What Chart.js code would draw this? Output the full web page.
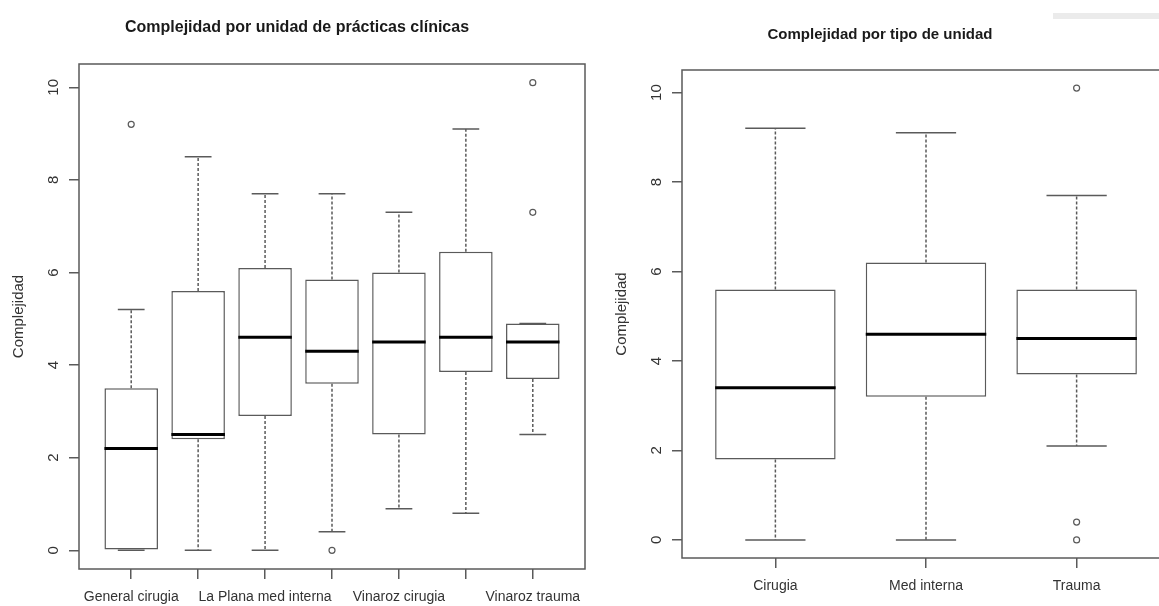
<!DOCTYPE html>
<html>
<head>
<meta charset="utf-8">
<script src="https://cdn.jsdelivr.net/npm/chart.js@4.4.1/dist/chart.umd.min.js"></script>
<style>
  html, body { margin: 0; padding: 0; background: #fff; overflow: hidden; width: 1159px; height: 606px; }
  .caja { position: absolute; top: 0; height: 606px; width: 600px; }
  #caja1 { left: 0; }
  #caja2 { left: 600px; }
  .titulo { position: absolute; font-family: "Liberation Sans", Arial, sans-serif; font-weight: bold; color: #1a1a1a; white-space: nowrap; transform: translate(-50%, -50%); }
  #marca { position: absolute; left: 1053px; top: 13px; width: 106px; height: 6px; background: #ebebeb; }
</style>
</head>
<body>
<div class="caja" id="caja1"><canvas id="grafUnidad"></canvas></div>
<div class="caja" id="caja2"><canvas id="grafTipo"></canvas></div>
<div class="titulo" style="left:297px;top:27px;font-size:16px">Complejidad por unidad de prácticas clínicas</div>
<div class="titulo" style="left:880px;top:33px;font-size:15px">Complejidad por tipo de unidad</div>
<div id="marca"></div>
<script>
// Unidades de prácticas (solo se ven las etiquetas impares, como en R)
const unidades = ['General cirugia', 'La Plana cirugia', 'La Plana med interna', 'La Plana trauma', 'Vinaroz cirugia', 'Vinaroz med interna', 'Vinaroz trauma'];
const unidadMin = [0, 0, 0, 0.4, 0.9, 0.8, 2.5];
const unidadQ1 = [0, 2.4, 2.9, 3.6, 2.5, 3.85, 3.7];
const unidadMed = [2.2, 2.5, 4.6, 4.3, 4.5, 4.6, 4.5];
const unidadQ3 = [3.5, 5.6, 6.1, 5.85, 6.0, 6.45, 4.9];
const unidadMax = [5.2, 8.5, 7.7, 7.7, 7.3, 9.1, 4.9];
const unidadAtip = [[9.2], [], [], [0], [], [], [10.1, 7.3]];

// Tipos de unidad
const tipos = ['Cirugia', 'Med interna', 'Trauma'];
const tipoMin = [0, 0, 2.1];
const tipoQ1 = [1.8, 3.2, 3.7];
const tipoMed = [3.4, 4.6, 4.5];
const tipoQ3 = [5.6, 6.2, 5.6];
const tipoMax = [9.2, 9.1, 7.7];
const tipoAtip = [[], [], [10.1, 0.4, 0]];

const yTicks = [0, 2, 4, 6, 8, 10];
const yMin = -0.404, yMax = 10.504;

const fuente = '"Liberation Sans", Arial, sans-serif';
const gris = '#5a5a5a';

// Marco, etiquetas verticales del eje y y titulo del eje, al estilo R
const estiloR = {
	id: 'estiloR',
	afterDraw(chart, args, opts) {
		const ctx = chart.ctx;
		const a = chart.chartArea;
		const y = chart.scales.y;
		ctx.save();
		ctx.strokeStyle = gris;
		ctx.lineWidth = 1.5;
		ctx.strokeRect(a.left, a.top, a.right - a.left, a.bottom - a.top);
		ctx.fillStyle = '#333';
		ctx.font = '15px ' + fuente;
		ctx.textAlign = 'center';
		ctx.textBaseline = 'middle';
		y.ticks.forEach(t => {
			ctx.save();
			ctx.translate(a.left - 25.5, y.getPixelForValue(t.value));
			ctx.rotate(-Math.PI / 2);
			ctx.fillText(String(t.value), 0, 0);
			ctx.restore();
		});
		ctx.translate(a.left - 60, (a.top + a.bottom) / 2);
		ctx.rotate(-Math.PI / 2);
		ctx.fillText(opts.titulo, 0, 0);
		ctx.restore();
	}
};

function boxplot(id, cats, lo, q1, med, q3, hi, atip, cfg) {
	const xs = cats.map((c, i) => i + 1);
	const bigotes = [], topes = [], medianas = [], puntos = [];
	xs.forEach((x, i) => {
		bigotes.push({x: x, y: q3[i]}, {x: x, y: hi[i]}, {x: x, y: null}, {x: x, y: q1[i]}, {x: x, y: lo[i]}, {x: x, y: null});
		topes.push({x: x - 0.2, y: hi[i]}, {x: x + 0.2, y: hi[i]}, {x: x, y: null}, {x: x - 0.2, y: lo[i]}, {x: x + 0.2, y: lo[i]}, {x: x, y: null});
		medianas.push({x: x - 0.4, y: med[i]}, {x: x + 0.4, y: med[i]}, {x: x, y: null});
		atip[i].forEach(v => puntos.push({x: x, y: v}));
	});
	const ext = 0.04 * cats.length;
	const eje = {
		drawOnChartArea: false,
		drawTicks: true,
		tickLength: 10,
		color: gris,
		lineWidth: 1.5,
		offset: false
	};
	return new Chart(document.getElementById(id), {
		type: 'bar',
		data: {
			datasets: [
				{ type: 'line', data: medianas, borderColor: '#000', borderWidth: 3, pointRadius: 0, order: 0 },
				{ type: 'scatter', data: puntos, pointStyle: 'circle', pointRadius: 3, borderWidth: 1.2, borderColor: gris, backgroundColor: '#fff', order: 1 },
				{ type: 'bar', data: xs.map((x, i) => ({x: x, y: [q1[i], q3[i]]})), backgroundColor: '#fff', borderColor: gris, borderWidth: 1.5, borderSkipped: false, barPercentage: 0.8, categoryPercentage: 1, order: 3 },
				{ type: 'line', data: bigotes, borderColor: gris, borderWidth: 1.5, borderDash: [3, 2], pointRadius: 0, order: 4 },
				{ type: 'line', data: topes, borderColor: gris, borderWidth: 1.5, pointRadius: 0, order: 4 }
			]
		},
		options: {
			responsive: true,
			maintainAspectRatio: false,
			animation: false,
			layout: { padding: cfg.padding },
			plugins: {
				legend: { display: false },
				tooltip: { enabled: false },
				estiloR: { titulo: 'Complejidad' }
			},
			scales: {
				x: {
					type: 'linear',
					offset: false,
					min: 0.5 - ext,
					max: cats.length + 0.5 + ext,
					afterBuildTicks: s => { s.ticks = xs.map(v => ({value: v})); },
					afterFit: s => { s.height = cfg.xAlto; },
					grid: eje,
					border: { display: false },
					ticks: {
						autoSkip: false,
						maxRotation: 0,
						minRotation: 0,
						padding: 10,
						color: '#333',
						font: { family: fuente, size: 14 },
						callback: (v, i) => cfg.mostrar(i) ? cats[Math.round(v) - 1] : ''
					}
				},
				y: {
					type: 'linear',
					min: yMin,
					max: yMax,
					afterBuildTicks: s => { s.ticks = yTicks.map(v => ({value: v})); },
					afterFit: s => { s.width = cfg.yAncho; },
					grid: eje,
					border: { display: false },
					ticks: { display: false }
				}
			}
		},
		plugins: [estiloR]
	});
}

boxplot('grafUnidad', unidades, unidadMin, unidadQ1, unidadMed, unidadQ3, unidadMax, unidadAtip, {
	padding: { left: 0, top: 64, right: 15, bottom: 0 },
	yAncho: 79,
	xAlto: 37,
	mostrar: i => i % 2 === 0
});

boxplot('grafTipo', tipos, tipoMin, tipoQ1, tipoMed, tipoQ3, tipoMax, tipoAtip, {
	padding: { left: 0, top: 70, right: 30, bottom: 0 },
	yAncho: 82,
	xAlto: 48,
	mostrar: i => true
});
</script>
</body>
</html>
